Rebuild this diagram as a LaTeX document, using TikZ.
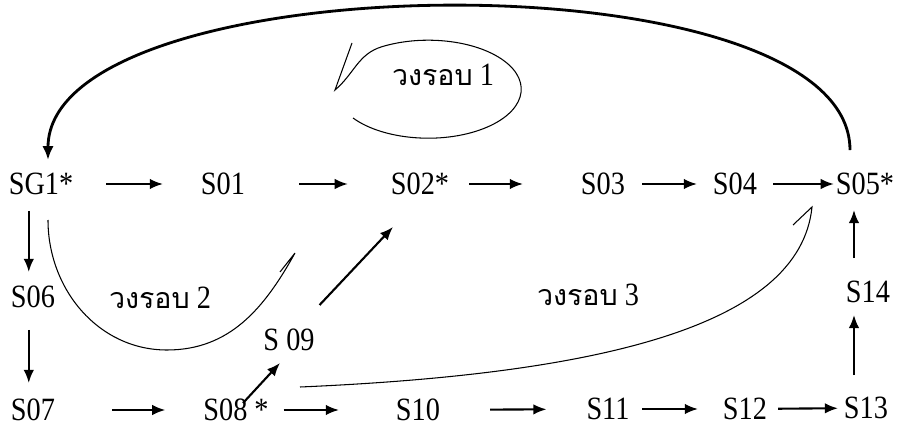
\documentclass[tikz,border=0pt]{standalone}
\usepackage{fontspec}
\setmainfont{Liberation Serif}[FakeStretch=0.87]
\newfontfamily\thaifont[Script=Thai,Scale=0.88]{Loma}
\usetikzlibrary{arrows.meta}
\tikzset{
	station/.style={inner sep=0pt,outer sep=0pt,font=\fontsize{18.5}{20}\selectfont},
	loopname/.style={inner sep=0pt,font=\fontsize{18.5}{20}\selectfont},
	flow/.style={line width=1.2pt,-{Latex[length=7.5pt,width=6pt]}},
	loopline/.style={line width=0.6pt}
}
\begin{document}
\begin{tikzpicture}[x=0.2mm,y=0.2mm]
	\useasboundingbox (0,0) rectangle (897,436);
	% top row
	\node[station] (sg1) at (41,252) {SG1*};
	\node[station] (s01) at (223,252) {S01};
	\node[station] (s02) at (420,252) {S02*};
	\node[station] (s03) at (603,252) {S03};
	\node[station] (s04) at (735,252) {S04};
	\node[station] (s05) at (865,252) {S05*};
	% sides and middle
	\node[station] (s06) at (33,139) {S06};
	\node[station] (s14) at (868,144) {S14};
	\node[station] (s09) at (289,96) {S 09};
	% bottom row
	\node[station] (s07) at (33,26) {S07};
	\node[station] (s08) at (236,26) {S08 *};
	\node[station] (s10) at (418,26) {S10};
	\node[station] (s11) at (608,27) {S11};
	\node[station] (s12) at (745,27) {S12};
	\node[station] (s13) at (866,28) {S13};
	% loop names
	\node[loopname] (r1) at (443,361) {{\thaifont วงรอบ} 1};
	\node[loopname] (r2) at (160,138) {{\thaifont วงรอบ} 2};
	\node[loopname] (r3) at (588,141) {{\thaifont วงรอบ} 3};
	% arrows
	\draw[flow,shorten <=6.6mm,shorten >=7.6mm] (sg1) -- (s01);
	\draw[flow,shorten <=10.8mm,shorten >=8.6mm] (s01) -- (s02);
	\draw[flow,shorten <=4mm,shorten >=11.6mm] (s02) -- (s03);
	\draw[flow,shorten <=3.4mm,shorten >=3.2mm] (s03) -- (s04);
	\draw[flow,shorten <=3.2mm,shorten >=0.4mm] (s04) -- (s05);
	\draw[flow,shorten <=3.2mm,shorten >=2.8mm] ([xshift=4mm]sg1.south west) -- ([xshift=4mm]sg1.south west |- s06.north);
	\draw[flow,shorten <=4.4mm,shorten >=3.2mm] ([xshift=4mm]sg1.south west |- s06.south) -- ([xshift=4mm]sg1.south west |- s07.north);
	\draw[flow,shorten <=11.4mm,shorten >=7.6mm] (s07) -- (s08);
	\draw[flow,shorten <=3mm,shorten >=11.4mm] (s08) -- (s10);
	\draw[flow,shorten <=10mm,shorten >=8mm] (s10) -- (s11);
	\draw[flow,shorten <=2.6mm,shorten >=5mm] (s11) -- (s12);
	\draw[flow,shorten <=2.2mm,shorten >=1.2mm] (s12) -- (s13);
	\draw[flow,shorten <=4.4mm,shorten >=2.4mm] ([xshift=2mm]s13.north west) -- ([xshift=2mm]s13.north west |- s14.south);
	\draw[flow,shorten <=4.6mm,shorten >=3mm] ([xshift=2mm]s13.north west |- s14.north) -- ([xshift=2mm]s13.north west |- s05.south);
	\draw[flow] ([shift={(1.4mm,-0.8mm)}]s08.north) -- ([shift={(-1.8mm,-2.4mm)}]s09.south);
	\draw[flow] ([shift={(1mm,4.8mm)}]s09.north east) -- ([shift={(-5.4mm,-6.4mm)}]s02.south);
	% back to start
	\draw[line width=1.6pt,-{Latex[length=8pt,width=6.5pt]}] ([shift={(-3mm,4.6mm)}]s05.north) to[out=90,in=90,looseness=0.63] ([shift={(1.4mm,2.6mm)}]sg1.north);
	% loops
	\draw[loopline] (353,318) arc[start angle=-144,end angle=120,x radius=93,y radius=49] to[out=197,in=40] (335,346) -- (352,393);
	\draw[loopline] (48,216) to[out=-90,in=180] (167,86) to[out=0,in=-119] (295,183) -- (280,164);
	\draw[loopline] (300,49) .. controls (600,62) and (800,110) .. (812,229) -- (793,211);
\end{tikzpicture}
\end{document}
